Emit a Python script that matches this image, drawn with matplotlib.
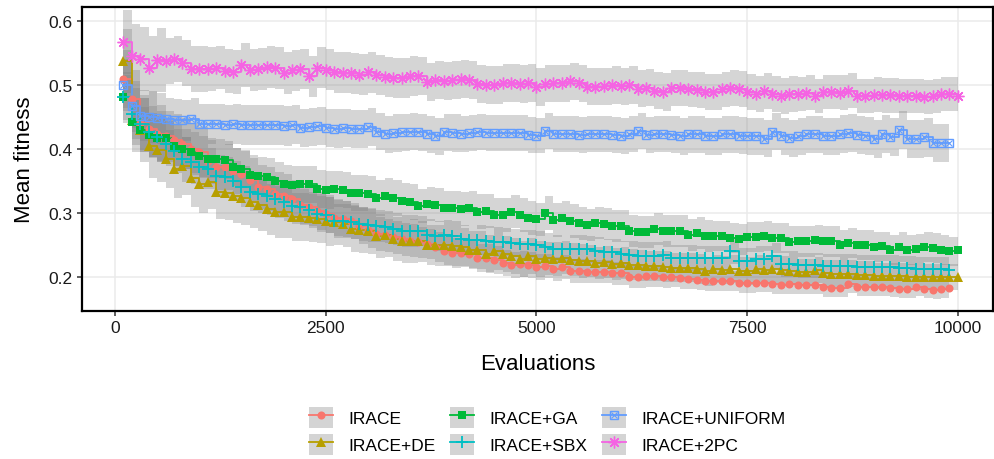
import numpy as np
import matplotlib
matplotlib.use("Agg")
import matplotlib.pyplot as plt
from matplotlib.lines import Line2D
from matplotlib.patches import Patch
from matplotlib.legend_handler import HandlerTuple

plt.rcParams['font.family'] = ['Liberation Sans', 'DejaVu Sans']

# ---------------- data ----------------
irace = [0.509, 0.478, 0.440, 0.431, 0.424, 0.420, 0.414, 0.408, 0.400, 0.395,
         0.381, 0.372, 0.372, 0.366, 0.361, 0.352, 0.341, 0.3375, 0.330, 0.327,
         0.322, 0.3125, 0.309, 0.303, 0.298, 0.292, 0.290, 0.288, 0.280, 0.274,
         0.267, 0.265, 0.262, 0.259, 0.257, 0.254, 0.2515, 0.247, 0.241, 0.2375,
         0.2375, 0.236, 0.230, 0.230, 0.227, 0.222, 0.219, 0.220, 0.219, 0.216,
         0.217, 0.2125, 0.216, 0.209, 0.209, 0.208, 0.208, 0.208, 0.206, 0.206,
         0.200, 0.200, 0.2015, 0.2015, 0.200, 0.200, 0.198, 0.197, 0.195, 0.194,
         0.194, 0.194, 0.194, 0.191, 0.191, 0.191, 0.191, 0.189, 0.188, 0.189,
         0.188, 0.188, 0.188, 0.184, 0.183, 0.183, 0.189, 0.184, 0.184, 0.184,
         0.184, 0.183, 0.181, 0.181, 0.184, 0.181, 0.180, 0.181, 0.183]

irace_de = [0.5375, 0.445, 0.430, 0.405, 0.399, 0.384, 0.369, 0.373, 0.354, 0.345,
            0.348, 0.333, 0.331, 0.327, 0.323, 0.317, 0.3125, 0.306, 0.3015, 0.3015,
            0.294, 0.294, 0.292, 0.291, 0.287, 0.286, 0.283, 0.275, 0.273, 0.272,
            0.264, 0.265, 0.259, 0.256, 0.2565, 0.256, 0.250, 0.2495, 0.250, 0.2485,
            0.247, 0.242, 0.242, 0.236, 0.2405, 0.236, 0.233, 0.228, 0.233, 0.228,
            0.229, 0.228, 0.230, 0.227, 0.225, 0.225, 0.222, 0.224, 0.2205, 0.222,
            0.219, 0.2185, 0.217, 0.217, 0.216, 0.2145, 0.2145, 0.2145, 0.2125, 0.209,
            0.2125, 0.211, 0.2125, 0.209, 0.210, 0.2125, 0.211, 0.2125, 0.211, 0.209,
            0.2075, 0.2075, 0.211, 0.206, 0.205, 0.205, 0.205, 0.2035, 0.2035, 0.2015,
            0.2015, 0.2015, 0.2015, 0.200, 0.200, 0.200, 0.200, 0.200, 0.200, 0.200]

irace_ga = [0.481, 0.442, 0.430, 0.422, 0.417, 0.417, 0.405, 0.400, 0.395, 0.389,
            0.384, 0.385, 0.383, 0.372, 0.369, 0.360, 0.358, 0.356, 0.350, 0.345,
            0.344, 0.345, 0.345, 0.3375, 0.336, 0.337, 0.336, 0.331, 0.331, 0.330,
            0.323, 0.327, 0.323, 0.319, 0.317, 0.311, 0.314, 0.3125, 0.308, 0.308,
            0.306, 0.308, 0.302, 0.303, 0.297, 0.297, 0.302, 0.297, 0.292, 0.290,
            0.300, 0.289, 0.292, 0.2875, 0.284, 0.281, 0.284, 0.283, 0.280, 0.280,
            0.272, 0.270, 0.270, 0.275, 0.272, 0.272, 0.272, 0.266, 0.268, 0.264,
            0.264, 0.264, 0.261, 0.259, 0.2625, 0.2625, 0.264, 0.261, 0.261, 0.255,
            0.256, 0.256, 0.258, 0.256, 0.256, 0.250, 0.253, 0.250, 0.250, 0.247,
            0.248, 0.242, 0.247, 0.242, 0.244, 0.247, 0.245, 0.242, 0.240, 0.242]

irace_sbx = [0.481, 0.455, 0.439, 0.427, 0.419, 0.408, 0.397, 0.384, 0.380, 0.372,
             0.369, 0.358, 0.356, 0.350, 0.341, 0.333, 0.330, 0.327, 0.322, 0.317,
             0.311, 0.309, 0.305, 0.298, 0.297, 0.2875, 0.2875, 0.286, 0.283, 0.281,
             0.280, 0.278, 0.275, 0.272, 0.272, 0.272, 0.266, 0.264, 0.265, 0.264,
             0.259, 0.258, 0.258, 0.256, 0.2545, 0.2545, 0.2535, 0.2515, 0.2515, 0.250,
             0.247, 0.244, 0.244, 0.244, 0.243, 0.243, 0.241, 0.239, 0.2385, 0.236,
             0.235, 0.233, 0.233, 0.233, 0.2345, 0.230, 0.230, 0.230, 0.229, 0.229,
             0.229, 0.229, 0.241, 0.225, 0.225, 0.228, 0.228, 0.233, 0.220, 0.220,
             0.218, 0.218, 0.218, 0.217, 0.2165, 0.2165, 0.2165, 0.2155, 0.2155, 0.2155,
             0.2155, 0.2155, 0.214, 0.214, 0.2125, 0.2125, 0.2125, 0.2125, 0.211]

irace_uniform = [0.500, 0.467, 0.452, 0.450, 0.448, 0.447, 0.446, 0.445, 0.447, 0.439,
                 0.439, 0.439, 0.438, 0.439, 0.438, 0.437, 0.438, 0.437, 0.437, 0.436,
                 0.438, 0.433, 0.434, 0.436, 0.433, 0.432, 0.433, 0.431, 0.431, 0.434,
                 0.427, 0.423, 0.425, 0.426, 0.427, 0.426, 0.423, 0.420, 0.426, 0.425,
                 0.423, 0.425, 0.426, 0.425, 0.425, 0.425, 0.425, 0.425, 0.422, 0.421,
                 0.428, 0.423, 0.423, 0.423, 0.422, 0.423, 0.423, 0.423, 0.422, 0.420,
                 0.423, 0.428, 0.422, 0.424, 0.424, 0.422, 0.420, 0.423, 0.423, 0.420,
                 0.420, 0.423, 0.423, 0.421, 0.420, 0.420, 0.416, 0.427, 0.420, 0.417,
                 0.420, 0.423, 0.423, 0.420, 0.420, 0.423, 0.425, 0.422, 0.420, 0.416,
                 0.423, 0.419, 0.430, 0.416, 0.416, 0.418, 0.409, 0.409, 0.409]

irace_2pc = [0.567, 0.545, 0.541, 0.527, 0.539, 0.5375, 0.541, 0.534, 0.525, 0.525,
             0.525, 0.527, 0.522, 0.520, 0.531, 0.523, 0.525, 0.528, 0.527, 0.519,
             0.523, 0.525, 0.514, 0.527, 0.524, 0.520, 0.519, 0.518, 0.516, 0.520,
             0.516, 0.5125, 0.511, 0.511, 0.514, 0.514, 0.505, 0.508, 0.506, 0.508,
             0.509, 0.508, 0.502, 0.500, 0.500, 0.503, 0.503, 0.502, 0.503, 0.497,
             0.502, 0.503, 0.503, 0.506, 0.503, 0.497, 0.497, 0.498, 0.500, 0.498,
             0.500, 0.494, 0.496, 0.491, 0.489, 0.495, 0.495, 0.493, 0.492, 0.489,
             0.489, 0.493, 0.495, 0.494, 0.489, 0.486, 0.490, 0.486, 0.483, 0.486,
             0.486, 0.488, 0.483, 0.489, 0.489, 0.488, 0.491, 0.483, 0.483, 0.485,
             0.484, 0.484, 0.483, 0.483, 0.483, 0.481, 0.483, 0.486, 0.486, 0.483]

# standard deviation (ribbon half width), one value per 500 evaluations
sd_irace = [0.045, 0.040, 0.036, 0.034, 0.030, 0.028, 0.026, 0.024, 0.022, 0.020,
            0.019, 0.018, 0.017, 0.016, 0.016, 0.015, 0.015, 0.014, 0.014, 0.014]
sd_de = [0.050, 0.045, 0.042, 0.040, 0.038, 0.036, 0.034, 0.032, 0.030, 0.028,
         0.026, 0.025, 0.024, 0.023, 0.022, 0.022, 0.021, 0.021, 0.020, 0.020]
sd_ga = [0.035, 0.032, 0.030, 0.030, 0.029, 0.028, 0.028, 0.027, 0.027, 0.026,
         0.026, 0.025, 0.025, 0.025, 0.024, 0.024, 0.024, 0.023, 0.023, 0.023]
sd_sbx = [0.040, 0.035, 0.032, 0.030, 0.028, 0.026, 0.025, 0.024, 0.023, 0.022,
          0.022, 0.021, 0.021, 0.020, 0.020, 0.020, 0.019, 0.019, 0.019, 0.019]
sd_uniform = [0.040, 0.032, 0.031, 0.031, 0.030, 0.030, 0.029, 0.029, 0.028, 0.028,
              0.028, 0.028, 0.028, 0.029, 0.029, 0.029, 0.029, 0.030, 0.030, 0.030]
sd_2pc = [0.050, 0.036, 0.034, 0.033, 0.032, 0.032, 0.031, 0.030, 0.030, 0.030,
          0.029, 0.029, 0.029, 0.028, 0.028, 0.028, 0.027, 0.027, 0.027, 0.027]

labels = ["IRACE", "IRACE+DE", "IRACE+GA", "IRACE+SBX", "IRACE+UNIFORM", "IRACE+2PC"]
eval_step = 100
x_ticks = [0, 2500, 5000, 7500, 10000]
y_ticks = [0.2, 0.3, 0.4, 0.5, 0.6]

# ---------------- style ----------------
colors = ["#F8766D", "#B79F00", "#00BA38", "#00BFC4", "#619CFF", "#F564E3"]
markers = ["o", "^", "s", "+", "uniform", (8, 2, 0)]
msizes = [5.8, 6.8, 5.8, 9, 6.2, 8.5]
series = [irace, irace_de, irace_ga, irace_sbx, irace_uniform, irace_2pc]
sds = [sd_irace, sd_de, sd_ga, sd_sbx, sd_uniform, sd_2pc]

W, H = 995, 460
fig = plt.figure(figsize=(W / 100, H / 100), dpi=100)
ax = fig.add_axes([82 / W, 1 - 312 / H, (993 - 82) / W, (312 - 8) / H])

# ribbons
for vals, sd in zip(series, sds):
    n = len(vals)
    x = eval_step * np.arange(1, n + 1)
    s = np.repeat(sd, 5)[:n]
    v = np.asarray(vals)
    ax.fill_between(x, v - s, v + s, step='post', facecolor='#808080',
                    alpha=0.33, linewidth=0, zorder=1)

# lines and markers
for vals, c, m, ms in zip(series, colors, markers, msizes):
    n = len(vals)
    x = eval_step * np.arange(1, n + 1)
    ax.step(x, vals, where='post', color=c, lw=1.3, zorder=3)
    if m == "uniform":
        ax.plot(x, vals, ls='none', marker='s', ms=ms, mfc='none', mec=c, mew=1.0, zorder=4)
        ax.plot(x, vals, ls='none', marker='x', ms=ms * 0.7, mec=c, mew=0.8, zorder=4)
    elif m == "+":
        ax.plot(x, vals, ls='none', marker='+', ms=ms, mec=c, mew=1.3, zorder=4)
    elif isinstance(m, tuple):
        ax.plot(x, vals, ls='none', marker=m, ms=ms, mec=c, mew=1.0, zorder=4)
    else:
        ax.plot(x, vals, ls='none', marker=m, ms=ms, mfc=c, mec=c, mew=0, zorder=4)

x0 = (82 - 115) / 0.08428
x1 = (993 - 115) / 0.08428
ax.set_xlim(x0, x1)
ax.set_ylim(0.6 - (312 - 22) / 640, 0.6 + (22 - 8) / 640)
ax.set_xticks(x_ticks)
ax.set_xticklabels([str(t) for t in x_ticks])
ax.set_yticks(y_ticks)
ax.set_yticklabels([f"{t:.1f}" for t in y_ticks])
ax.grid(True, color='#ebebeb', lw=1.1, zorder=0)
ax.set_axisbelow(True)
for sp in ax.spines.values():
    sp.set_color('black')
    sp.set_linewidth(1.6)
ax.tick_params(axis='both', length=3.5, width=1.1, color='#333333',
               labelsize=12.5, labelcolor='#1a1a1a', pad=3)
ax.set_xlabel("Evaluations", fontsize=16, labelpad=13)
ax.set_ylabel("Mean fitness", fontsize=16, labelpad=10)

# legend
handles = []
for c, m, ms in zip(colors, markers, msizes):
    bg = Patch(facecolor='#d4d4d4', edgecolor='none')
    ln = Line2D([], [], color=c, lw=1.3)
    if m == "uniform":
        mk = (Line2D([], [], ls='none', marker='s', ms=ms, mfc='none', mec=c, mew=1.0),
              Line2D([], [], ls='none', marker='x', ms=ms * 0.7, mec=c, mew=0.8))
        handles.append((bg, ln) + mk)
    elif m == "+":
        handles.append((bg, ln, Line2D([], [], ls='none', marker='+', ms=ms, mec=c, mew=1.3)))
    elif isinstance(m, tuple):
        handles.append((bg, ln, Line2D([], [], ls='none', marker=m, ms=ms, mec=c, mew=1.0)))
    else:
        handles.append((bg, ln, Line2D([], [], ls='none', marker=m, ms=ms, mfc=c, mec=c, mew=0)))

fig.legend(handles, labels, ncol=3, loc='center',
           bbox_to_anchor=(547 / W, 1 - 432 / H), frameon=False,
           fontsize=12.5, handlelength=1.4, handleheight=1.5,
           handletextpad=0.85, columnspacing=0.85, labelspacing=0.35,
           borderpad=0.2,
           handler_map={tuple: HandlerTuple(ndivide=1, pad=0)})

fig.savefig("out.png", dpi=100)
